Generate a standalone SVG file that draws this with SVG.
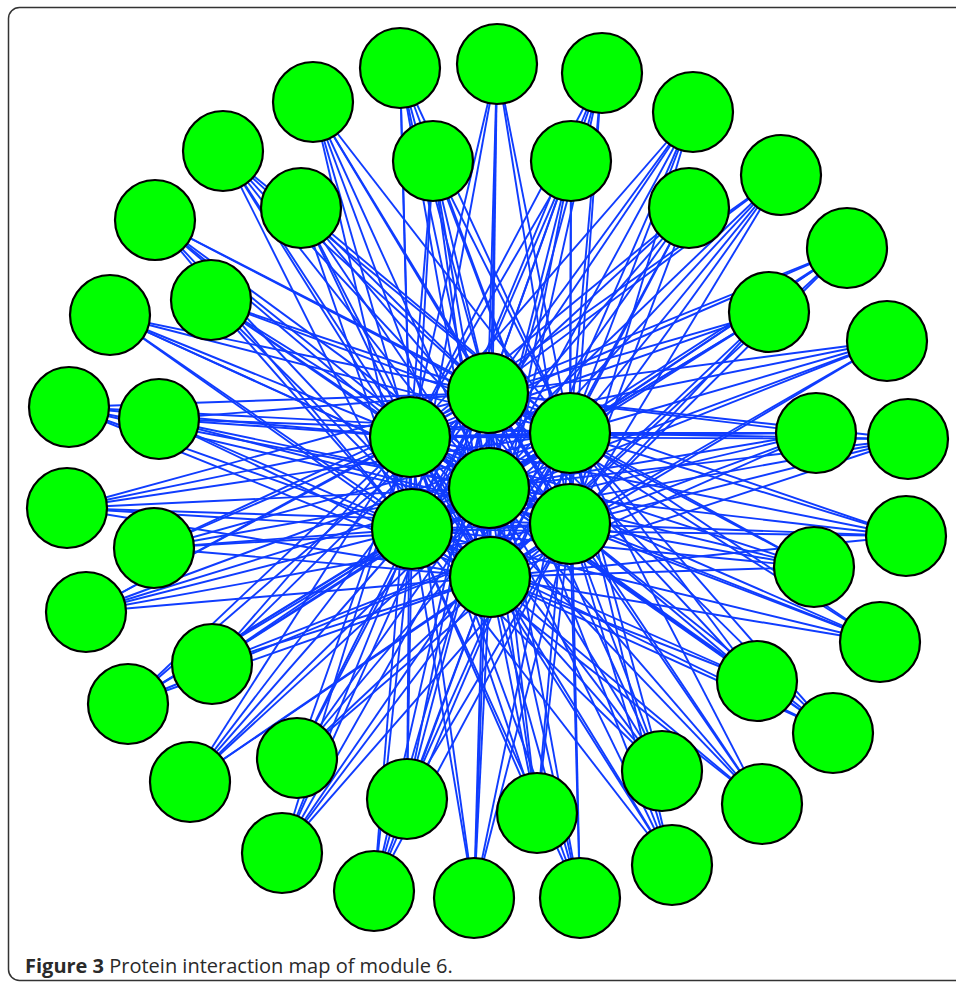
<svg xmlns="http://www.w3.org/2000/svg" width="956" height="983" viewBox="0 0 956 983">
<style>
.edges line{stroke:#0f3cff;stroke-width:1.9}
.node circle{fill:#00ff00;stroke:#000;stroke-width:2.2}
.cap{font-family:"Open Sans","Noto Sans","Liberation Sans",sans-serif;font-size:20px;fill:#2a2a2a}
</style>
<rect x="8.5" y="7.5" width="970" height="973" rx="11" fill="#fff" stroke="#333" stroke-width="1.5"/>
<g id="connectors" class="edges">
<line x1="400" y1="68" x2="488" y2="393"/><line x1="400" y1="68" x2="410" y2="437"/><line x1="400" y1="68" x2="570" y2="433"/><line x1="400" y1="68" x2="489" y2="488"/><line x1="400" y1="68" x2="412" y2="529"/><line x1="400" y1="68" x2="570" y2="524"/><line x1="400" y1="68" x2="490" y2="577"/>
<line x1="497" y1="64" x2="488" y2="393"/><line x1="497" y1="64" x2="410" y2="437"/><line x1="497" y1="64" x2="570" y2="433"/><line x1="497" y1="64" x2="489" y2="488"/><line x1="497" y1="64" x2="412" y2="529"/><line x1="497" y1="64" x2="570" y2="524"/><line x1="497" y1="64" x2="490" y2="577"/>
<line x1="602" y1="73" x2="488" y2="393"/><line x1="602" y1="73" x2="410" y2="437"/><line x1="602" y1="73" x2="570" y2="433"/><line x1="602" y1="73" x2="489" y2="488"/><line x1="602" y1="73" x2="412" y2="529"/><line x1="602" y1="73" x2="570" y2="524"/><line x1="602" y1="73" x2="490" y2="577"/>
<line x1="693" y1="112" x2="488" y2="393"/><line x1="693" y1="112" x2="410" y2="437"/><line x1="693" y1="112" x2="570" y2="433"/><line x1="693" y1="112" x2="489" y2="488"/><line x1="693" y1="112" x2="412" y2="529"/><line x1="693" y1="112" x2="570" y2="524"/><line x1="693" y1="112" x2="490" y2="577"/>
<line x1="313" y1="102" x2="488" y2="393"/><line x1="313" y1="102" x2="410" y2="437"/><line x1="313" y1="102" x2="570" y2="433"/><line x1="313" y1="102" x2="489" y2="488"/><line x1="313" y1="102" x2="412" y2="529"/><line x1="313" y1="102" x2="570" y2="524"/><line x1="313" y1="102" x2="490" y2="577"/>
<line x1="223" y1="151" x2="488" y2="393"/><line x1="223" y1="151" x2="410" y2="437"/><line x1="223" y1="151" x2="570" y2="433"/><line x1="223" y1="151" x2="489" y2="488"/><line x1="223" y1="151" x2="412" y2="529"/><line x1="223" y1="151" x2="570" y2="524"/><line x1="223" y1="151" x2="490" y2="577"/>
<line x1="781" y1="175" x2="488" y2="393"/><line x1="781" y1="175" x2="410" y2="437"/><line x1="781" y1="175" x2="570" y2="433"/><line x1="781" y1="175" x2="489" y2="488"/><line x1="781" y1="175" x2="412" y2="529"/><line x1="781" y1="175" x2="570" y2="524"/><line x1="781" y1="175" x2="490" y2="577"/>
<line x1="155" y1="220" x2="488" y2="393"/><line x1="155" y1="220" x2="410" y2="437"/><line x1="155" y1="220" x2="570" y2="433"/><line x1="155" y1="220" x2="489" y2="488"/><line x1="155" y1="220" x2="412" y2="529"/><line x1="155" y1="220" x2="570" y2="524"/><line x1="155" y1="220" x2="490" y2="577"/>
<line x1="847" y1="248" x2="488" y2="393"/><line x1="847" y1="248" x2="410" y2="437"/><line x1="847" y1="248" x2="570" y2="433"/><line x1="847" y1="248" x2="489" y2="488"/><line x1="847" y1="248" x2="412" y2="529"/><line x1="847" y1="248" x2="570" y2="524"/><line x1="847" y1="248" x2="490" y2="577"/>
<line x1="110" y1="315" x2="488" y2="393"/><line x1="110" y1="315" x2="410" y2="437"/><line x1="110" y1="315" x2="570" y2="433"/><line x1="110" y1="315" x2="489" y2="488"/><line x1="110" y1="315" x2="412" y2="529"/><line x1="110" y1="315" x2="570" y2="524"/><line x1="110" y1="315" x2="490" y2="577"/>
<line x1="887" y1="341" x2="488" y2="393"/><line x1="887" y1="341" x2="410" y2="437"/><line x1="887" y1="341" x2="570" y2="433"/><line x1="887" y1="341" x2="489" y2="488"/><line x1="887" y1="341" x2="412" y2="529"/><line x1="887" y1="341" x2="570" y2="524"/><line x1="887" y1="341" x2="490" y2="577"/>
<line x1="69" y1="407" x2="488" y2="393"/><line x1="69" y1="407" x2="410" y2="437"/><line x1="69" y1="407" x2="570" y2="433"/><line x1="69" y1="407" x2="489" y2="488"/><line x1="69" y1="407" x2="412" y2="529"/><line x1="69" y1="407" x2="570" y2="524"/><line x1="69" y1="407" x2="490" y2="577"/>
<line x1="908" y1="439" x2="488" y2="393"/><line x1="908" y1="439" x2="410" y2="437"/><line x1="908" y1="439" x2="570" y2="433"/><line x1="908" y1="439" x2="489" y2="488"/><line x1="908" y1="439" x2="412" y2="529"/><line x1="908" y1="439" x2="570" y2="524"/><line x1="908" y1="439" x2="490" y2="577"/>
<line x1="67" y1="508" x2="488" y2="393"/><line x1="67" y1="508" x2="410" y2="437"/><line x1="67" y1="508" x2="570" y2="433"/><line x1="67" y1="508" x2="489" y2="488"/><line x1="67" y1="508" x2="412" y2="529"/><line x1="67" y1="508" x2="570" y2="524"/><line x1="67" y1="508" x2="490" y2="577"/>
<line x1="906" y1="536" x2="488" y2="393"/><line x1="906" y1="536" x2="410" y2="437"/><line x1="906" y1="536" x2="570" y2="433"/><line x1="906" y1="536" x2="489" y2="488"/><line x1="906" y1="536" x2="412" y2="529"/><line x1="906" y1="536" x2="570" y2="524"/><line x1="906" y1="536" x2="490" y2="577"/>
<line x1="86" y1="612" x2="488" y2="393"/><line x1="86" y1="612" x2="410" y2="437"/><line x1="86" y1="612" x2="570" y2="433"/><line x1="86" y1="612" x2="489" y2="488"/><line x1="86" y1="612" x2="412" y2="529"/><line x1="86" y1="612" x2="570" y2="524"/><line x1="86" y1="612" x2="490" y2="577"/>
<line x1="880" y1="642" x2="488" y2="393"/><line x1="880" y1="642" x2="410" y2="437"/><line x1="880" y1="642" x2="570" y2="433"/><line x1="880" y1="642" x2="489" y2="488"/><line x1="880" y1="642" x2="412" y2="529"/><line x1="880" y1="642" x2="570" y2="524"/><line x1="880" y1="642" x2="490" y2="577"/>
<line x1="128" y1="704" x2="488" y2="393"/><line x1="128" y1="704" x2="410" y2="437"/><line x1="128" y1="704" x2="570" y2="433"/><line x1="128" y1="704" x2="489" y2="488"/><line x1="128" y1="704" x2="412" y2="529"/><line x1="128" y1="704" x2="570" y2="524"/><line x1="128" y1="704" x2="490" y2="577"/>
<line x1="833" y1="733" x2="488" y2="393"/><line x1="833" y1="733" x2="410" y2="437"/><line x1="833" y1="733" x2="570" y2="433"/><line x1="833" y1="733" x2="489" y2="488"/><line x1="833" y1="733" x2="412" y2="529"/><line x1="833" y1="733" x2="570" y2="524"/><line x1="833" y1="733" x2="490" y2="577"/>
<line x1="190" y1="782" x2="488" y2="393"/><line x1="190" y1="782" x2="410" y2="437"/><line x1="190" y1="782" x2="570" y2="433"/><line x1="190" y1="782" x2="489" y2="488"/><line x1="190" y1="782" x2="412" y2="529"/><line x1="190" y1="782" x2="570" y2="524"/><line x1="190" y1="782" x2="490" y2="577"/>
<line x1="762" y1="804" x2="488" y2="393"/><line x1="762" y1="804" x2="410" y2="437"/><line x1="762" y1="804" x2="570" y2="433"/><line x1="762" y1="804" x2="489" y2="488"/><line x1="762" y1="804" x2="412" y2="529"/><line x1="762" y1="804" x2="570" y2="524"/><line x1="762" y1="804" x2="490" y2="577"/>
<line x1="282" y1="853" x2="488" y2="393"/><line x1="282" y1="853" x2="410" y2="437"/><line x1="282" y1="853" x2="570" y2="433"/><line x1="282" y1="853" x2="489" y2="488"/><line x1="282" y1="853" x2="412" y2="529"/><line x1="282" y1="853" x2="570" y2="524"/><line x1="282" y1="853" x2="490" y2="577"/>
<line x1="672" y1="865" x2="488" y2="393"/><line x1="672" y1="865" x2="410" y2="437"/><line x1="672" y1="865" x2="570" y2="433"/><line x1="672" y1="865" x2="489" y2="488"/><line x1="672" y1="865" x2="412" y2="529"/><line x1="672" y1="865" x2="570" y2="524"/><line x1="672" y1="865" x2="490" y2="577"/>
<line x1="374" y1="891" x2="488" y2="393"/><line x1="374" y1="891" x2="410" y2="437"/><line x1="374" y1="891" x2="570" y2="433"/><line x1="374" y1="891" x2="489" y2="488"/><line x1="374" y1="891" x2="412" y2="529"/><line x1="374" y1="891" x2="570" y2="524"/><line x1="374" y1="891" x2="490" y2="577"/>
<line x1="474" y1="898" x2="488" y2="393"/><line x1="474" y1="898" x2="410" y2="437"/><line x1="474" y1="898" x2="570" y2="433"/><line x1="474" y1="898" x2="489" y2="488"/><line x1="474" y1="898" x2="412" y2="529"/><line x1="474" y1="898" x2="570" y2="524"/><line x1="474" y1="898" x2="490" y2="577"/>
<line x1="580" y1="898" x2="488" y2="393"/><line x1="580" y1="898" x2="410" y2="437"/><line x1="580" y1="898" x2="570" y2="433"/><line x1="580" y1="898" x2="489" y2="488"/><line x1="580" y1="898" x2="412" y2="529"/><line x1="580" y1="898" x2="570" y2="524"/><line x1="580" y1="898" x2="490" y2="577"/>
<line x1="433" y1="161" x2="488" y2="393"/><line x1="433" y1="161" x2="410" y2="437"/><line x1="433" y1="161" x2="570" y2="433"/><line x1="433" y1="161" x2="489" y2="488"/><line x1="433" y1="161" x2="412" y2="529"/><line x1="433" y1="161" x2="570" y2="524"/><line x1="433" y1="161" x2="490" y2="577"/>
<line x1="571" y1="161" x2="488" y2="393"/><line x1="571" y1="161" x2="410" y2="437"/><line x1="571" y1="161" x2="570" y2="433"/><line x1="571" y1="161" x2="489" y2="488"/><line x1="571" y1="161" x2="412" y2="529"/><line x1="571" y1="161" x2="570" y2="524"/><line x1="571" y1="161" x2="490" y2="577"/>
<line x1="301" y1="208" x2="488" y2="393"/><line x1="301" y1="208" x2="410" y2="437"/><line x1="301" y1="208" x2="570" y2="433"/><line x1="301" y1="208" x2="489" y2="488"/><line x1="301" y1="208" x2="412" y2="529"/><line x1="301" y1="208" x2="570" y2="524"/><line x1="301" y1="208" x2="490" y2="577"/>
<line x1="689" y1="208" x2="488" y2="393"/><line x1="689" y1="208" x2="410" y2="437"/><line x1="689" y1="208" x2="570" y2="433"/><line x1="689" y1="208" x2="489" y2="488"/><line x1="689" y1="208" x2="412" y2="529"/><line x1="689" y1="208" x2="570" y2="524"/><line x1="689" y1="208" x2="490" y2="577"/>
<line x1="211" y1="300" x2="488" y2="393"/><line x1="211" y1="300" x2="410" y2="437"/><line x1="211" y1="300" x2="570" y2="433"/><line x1="211" y1="300" x2="489" y2="488"/><line x1="211" y1="300" x2="412" y2="529"/><line x1="211" y1="300" x2="570" y2="524"/><line x1="211" y1="300" x2="490" y2="577"/>
<line x1="769" y1="312" x2="488" y2="393"/><line x1="769" y1="312" x2="410" y2="437"/><line x1="769" y1="312" x2="570" y2="433"/><line x1="769" y1="312" x2="489" y2="488"/><line x1="769" y1="312" x2="412" y2="529"/><line x1="769" y1="312" x2="570" y2="524"/><line x1="769" y1="312" x2="490" y2="577"/>
<line x1="159" y1="419" x2="488" y2="393"/><line x1="159" y1="419" x2="410" y2="437"/><line x1="159" y1="419" x2="570" y2="433"/><line x1="159" y1="419" x2="489" y2="488"/><line x1="159" y1="419" x2="412" y2="529"/><line x1="159" y1="419" x2="570" y2="524"/><line x1="159" y1="419" x2="490" y2="577"/>
<line x1="816" y1="433" x2="488" y2="393"/><line x1="816" y1="433" x2="410" y2="437"/><line x1="816" y1="433" x2="570" y2="433"/><line x1="816" y1="433" x2="489" y2="488"/><line x1="816" y1="433" x2="412" y2="529"/><line x1="816" y1="433" x2="570" y2="524"/><line x1="816" y1="433" x2="490" y2="577"/>
<line x1="154" y1="548" x2="488" y2="393"/><line x1="154" y1="548" x2="410" y2="437"/><line x1="154" y1="548" x2="570" y2="433"/><line x1="154" y1="548" x2="489" y2="488"/><line x1="154" y1="548" x2="412" y2="529"/><line x1="154" y1="548" x2="570" y2="524"/><line x1="154" y1="548" x2="490" y2="577"/>
<line x1="814" y1="567" x2="488" y2="393"/><line x1="814" y1="567" x2="410" y2="437"/><line x1="814" y1="567" x2="570" y2="433"/><line x1="814" y1="567" x2="489" y2="488"/><line x1="814" y1="567" x2="412" y2="529"/><line x1="814" y1="567" x2="570" y2="524"/><line x1="814" y1="567" x2="490" y2="577"/>
<line x1="212" y1="664" x2="488" y2="393"/><line x1="212" y1="664" x2="410" y2="437"/><line x1="212" y1="664" x2="570" y2="433"/><line x1="212" y1="664" x2="489" y2="488"/><line x1="212" y1="664" x2="412" y2="529"/><line x1="212" y1="664" x2="570" y2="524"/><line x1="212" y1="664" x2="490" y2="577"/>
<line x1="757" y1="681" x2="488" y2="393"/><line x1="757" y1="681" x2="410" y2="437"/><line x1="757" y1="681" x2="570" y2="433"/><line x1="757" y1="681" x2="489" y2="488"/><line x1="757" y1="681" x2="412" y2="529"/><line x1="757" y1="681" x2="570" y2="524"/><line x1="757" y1="681" x2="490" y2="577"/>
<line x1="297" y1="758" x2="488" y2="393"/><line x1="297" y1="758" x2="410" y2="437"/><line x1="297" y1="758" x2="570" y2="433"/><line x1="297" y1="758" x2="489" y2="488"/><line x1="297" y1="758" x2="412" y2="529"/><line x1="297" y1="758" x2="570" y2="524"/><line x1="297" y1="758" x2="490" y2="577"/>
<line x1="662" y1="771" x2="488" y2="393"/><line x1="662" y1="771" x2="410" y2="437"/><line x1="662" y1="771" x2="570" y2="433"/><line x1="662" y1="771" x2="489" y2="488"/><line x1="662" y1="771" x2="412" y2="529"/><line x1="662" y1="771" x2="570" y2="524"/><line x1="662" y1="771" x2="490" y2="577"/>
<line x1="407" y1="799" x2="488" y2="393"/><line x1="407" y1="799" x2="410" y2="437"/><line x1="407" y1="799" x2="570" y2="433"/><line x1="407" y1="799" x2="489" y2="488"/><line x1="407" y1="799" x2="412" y2="529"/><line x1="407" y1="799" x2="570" y2="524"/><line x1="407" y1="799" x2="490" y2="577"/>
<line x1="537" y1="813" x2="488" y2="393"/><line x1="537" y1="813" x2="410" y2="437"/><line x1="537" y1="813" x2="570" y2="433"/><line x1="537" y1="813" x2="489" y2="488"/><line x1="537" y1="813" x2="412" y2="529"/><line x1="537" y1="813" x2="570" y2="524"/><line x1="537" y1="813" x2="490" y2="577"/>
<line x1="488" y1="393" x2="410" y2="437"/><line x1="488" y1="393" x2="570" y2="433"/><line x1="488" y1="393" x2="489" y2="488"/><line x1="488" y1="393" x2="412" y2="529"/><line x1="488" y1="393" x2="570" y2="524"/><line x1="488" y1="393" x2="490" y2="577"/>
<line x1="410" y1="437" x2="570" y2="433"/><line x1="410" y1="437" x2="489" y2="488"/><line x1="410" y1="437" x2="412" y2="529"/><line x1="410" y1="437" x2="570" y2="524"/><line x1="410" y1="437" x2="490" y2="577"/>
<line x1="570" y1="433" x2="489" y2="488"/><line x1="570" y1="433" x2="412" y2="529"/><line x1="570" y1="433" x2="570" y2="524"/><line x1="570" y1="433" x2="490" y2="577"/>
<line x1="489" y1="488" x2="412" y2="529"/><line x1="489" y1="488" x2="570" y2="524"/><line x1="489" y1="488" x2="490" y2="577"/>
<line x1="412" y1="529" x2="570" y2="524"/><line x1="412" y1="529" x2="490" y2="577"/><line x1="570" y1="524" x2="490" y2="577"/>
</g>
<g id="n1" class="node"><circle cx="400" cy="68" r="40"/></g>
<g id="n2" class="node"><circle cx="497" cy="64" r="40"/></g>
<g id="n3" class="node"><circle cx="602" cy="73" r="40"/></g>
<g id="n4" class="node"><circle cx="693" cy="112" r="40"/></g>
<g id="n5" class="node"><circle cx="313" cy="102" r="40"/></g>
<g id="n6" class="node"><circle cx="223" cy="151" r="40"/></g>
<g id="n7" class="node"><circle cx="781" cy="175" r="40"/></g>
<g id="n8" class="node"><circle cx="155" cy="220" r="40"/></g>
<g id="n9" class="node"><circle cx="847" cy="248" r="40"/></g>
<g id="n10" class="node"><circle cx="110" cy="315" r="40"/></g>
<g id="n11" class="node"><circle cx="887" cy="341" r="40"/></g>
<g id="n12" class="node"><circle cx="69" cy="407" r="40"/></g>
<g id="n13" class="node"><circle cx="908" cy="439" r="40"/></g>
<g id="n14" class="node"><circle cx="67" cy="508" r="40"/></g>
<g id="n15" class="node"><circle cx="906" cy="536" r="40"/></g>
<g id="n16" class="node"><circle cx="86" cy="612" r="40"/></g>
<g id="n17" class="node"><circle cx="880" cy="642" r="40"/></g>
<g id="n18" class="node"><circle cx="128" cy="704" r="40"/></g>
<g id="n19" class="node"><circle cx="833" cy="733" r="40"/></g>
<g id="n20" class="node"><circle cx="190" cy="782" r="40"/></g>
<g id="n21" class="node"><circle cx="762" cy="804" r="40"/></g>
<g id="n22" class="node"><circle cx="282" cy="853" r="40"/></g>
<g id="n23" class="node"><circle cx="672" cy="865" r="40"/></g>
<g id="n24" class="node"><circle cx="374" cy="891" r="40"/></g>
<g id="n25" class="node"><circle cx="474" cy="898" r="40"/></g>
<g id="n26" class="node"><circle cx="580" cy="898" r="40"/></g>
<g id="n27" class="node"><circle cx="433" cy="161" r="40"/></g>
<g id="n28" class="node"><circle cx="571" cy="161" r="40"/></g>
<g id="n29" class="node"><circle cx="301" cy="208" r="40"/></g>
<g id="n30" class="node"><circle cx="689" cy="208" r="40"/></g>
<g id="n31" class="node"><circle cx="211" cy="300" r="40"/></g>
<g id="n32" class="node"><circle cx="769" cy="312" r="40"/></g>
<g id="n33" class="node"><circle cx="159" cy="419" r="40"/></g>
<g id="n34" class="node"><circle cx="816" cy="433" r="40"/></g>
<g id="n35" class="node"><circle cx="154" cy="548" r="40"/></g>
<g id="n36" class="node"><circle cx="814" cy="567" r="40"/></g>
<g id="n37" class="node"><circle cx="212" cy="664" r="40"/></g>
<g id="n38" class="node"><circle cx="757" cy="681" r="40"/></g>
<g id="n39" class="node"><circle cx="297" cy="758" r="40"/></g>
<g id="n40" class="node"><circle cx="662" cy="771" r="40"/></g>
<g id="n41" class="node"><circle cx="407" cy="799" r="40"/></g>
<g id="n42" class="node"><circle cx="537" cy="813" r="40"/></g>
<g id="c1" class="node"><circle cx="488" cy="393" r="40"/></g>
<g id="c2" class="node"><circle cx="410" cy="437" r="40"/></g>
<g id="c3" class="node"><circle cx="570" cy="433" r="40"/></g>
<g id="c4" class="node"><circle cx="489" cy="488" r="40"/></g>
<g id="c5" class="node"><circle cx="412" cy="529" r="40"/></g>
<g id="c6" class="node"><circle cx="570" cy="524" r="40"/></g>
<g id="c7" class="node"><circle cx="490" cy="577" r="40"/></g>
<text class="cap" x="25" y="973"><tspan font-weight="bold">Figure 3</tspan> Protein interaction map of module 6.</text>
</svg>
